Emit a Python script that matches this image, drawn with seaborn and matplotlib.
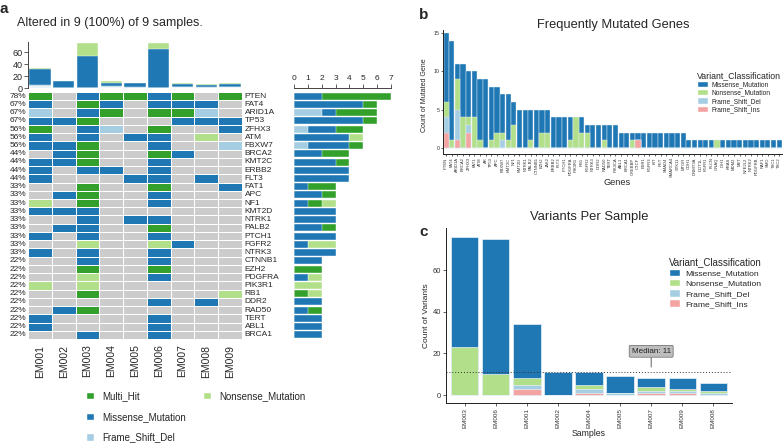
import numpy as np
import pandas as pd
import matplotlib
matplotlib.use("Agg")
import matplotlib.pyplot as plt
import seaborn as sns
from matplotlib.colors import ListedColormap
from matplotlib.patches import Patch

sns.set_theme(style="white")
plt.rcParams['font.family'] = ['Liberation Sans', 'DejaVu Sans']

# ============================================
# Colours (maftools style)
# ============================================
MIS = "#1F78B4"    # Missense_Mutation
NSN = "#B2DF8A"    # Nonsense_Mutation
FSD = "#A6CEE3"    # Frame_Shift_Del
FSI = "#F4A3A3"    # Frame_Shift_Ins
MULTI = "#33A02C"  # Multi_Hit
NONE = "#CCCCCC"

# ============================================
# Panel a data: oncoplot
# ============================================
samples = ["EM001", "EM002", "EM003", "EM004", "EM005", "EM006", "EM007", "EM008", "EM009"]

onco_genes = ["PTEN", "FAT4", "ARID1A", "TP53", "ZFHX3", "ATM", "FBXW7", "BRCA2", "KMT2C", "ERBB2",
              "FLT3", "FAT1", "APC", "NF1", "KMT2D", "NTRK1", "PALB2", "PTCH1", "FGFR2", "NTRK3",
              "CTNNB1", "EZH2", "PDGFRA", "PIK3R1", "RB1", "DDR2", "RAD50", "TERT", "ABL1", "BRCA1"]

# one string per gene, one letter per sample
# . none, M Multi_Hit, S Missense, N Nonsense, F Frame_Shift_Del
onco_rows = ["M.SMMSM.M", "S.MS.SSS.", "F.SM.MMF.", "SSM...SSS", "M.SF.M..S",
             "S.S.SS.N.", "SSM..S..F", ".SM..MS..", "SSM..S...", "S.SS.S...",
             "S...SS.S.", "..M..M..S", ".SM..S...", "N.M..S...", "SSS......",
             "..S.SS...", ".SS..M...", "S.S..S...", "..N..NS..", "S.S..S...",
             "..S..S...", "..M..M...", "..N..S...", "N.N......", "..M.....N",
             ".....S.S.", ".SM......", "S....S...", "S....S...", "..S..S..."]

# variants per sample (EM001..EM009)
s_mis = [26, 11, 53, 6, 8, 65, 4, 4, 5]
s_nsn = [3, 0, 23, 2, 0, 10, 2, 1, 1]
s_fsd = [2, 0, 0, 2, 1, 0, 1, 1, 1]
s_fsi = [3, 0, 0, 1, 0, 0, 1, 0, 1]

# ============================================
# Panel b data: frequently mutated genes
# ============================================
g_genes = ["PTEN", "FAT4", "ARID1A", "BRCA2", "ZFHX3", "FAT1", "ATM", "AR", "TP53", "APC",
           "FBXW7", "KMT2C", "NF1", "KMT2D", "NTRK1", "PALB2", "CTNNB1", "EZH2", "JAK2", "ERBB2",
           "FLT3", "PTCH1", "PDGFRA", "PIK3R1", "RB1", "FGFR2", "NTRK3", "DDR2", "RAD50", "TERT",
           "PIK3CA", "ABL1", "BRCA1", "CREBBP", "CTCF", "ESR1", "FGFR3", "KIT", "RET", "SMAD4",
           "SMARCA4", "STK11", "MTOR", "CDH1", "DNMT3A", "DOT1L", "FGFR1", "FLCN", "GNAQ", "IDH1",
           "KRAS", "MDM2", "MET", "NFE2L2", "NTRK2", "PDGFRB", "RAF1", "SMO", "TSC1", "TSC2"]
g_mis = [9, 13, 2, 7, 6, 6, 8, 9, 7, 6,
         5, 6, 3, 5, 5, 4, 5, 3, 3, 4,
         4, 4, 3, 0, 2, 1, 3, 3, 2, 3,
         3, 2, 2, 1, 1, 2, 2, 2, 2, 2,
         2, 2, 2, 1, 1, 1, 1, 1, 0, 1,
         1, 1, 1, 1, 1, 1, 1, 1, 1, 1]
g_nsn = [2, 1, 4, 4, 1, 4, 1, 0, 1, 2,
         1, 1, 3, 0, 0, 1, 0, 2, 2, 0,
         0, 0, 1, 4, 2, 2, 0, 0, 1, 0,
         0, 0, 0, 1, 0, 0, 0, 0, 0, 0,
         0, 0, 0, 0, 0, 0, 0, 0, 1, 0,
         0, 0, 0, 0, 0, 0, 0, 0, 0, 0]
g_fsd = [2, 0, 4, 0, 1, 0, 0, 0, 0, 0, 1] + [0] * 49
g_fsi = [2, 0, 1, 0, 2] + [0] * 29 + [1] + [0] * 25

W, H = 784, 444
fig = plt.figure(figsize=(W / 100, H / 100), dpi=100)


def px_axes(l, t, r, b):
    # axes from pixel box (top-left origin)
    return fig.add_axes([l / W, 1 - b / H, (r - l) / W, (b - t) / H])


def stacked(ax, cats, parts, colors, orient="v", width=0.9, edge="white", lw=0.4):
    # parts go bottom -> top; draw running totals from the top layer down
    cum = np.cumsum(np.array(parts, dtype=float), axis=0)
    for level in range(len(parts) - 1, -1, -1):
        if orient == "v":
            sns.barplot(x=cats, y=cum[level], order=cats, color=colors[level], saturation=1,
                        width=width, errorbar=None, edgecolor=edge, linewidth=lw, ax=ax)
        else:
            sns.barplot(x=cum[level], y=cats, order=cats, orient="h", color=colors[level],
                        saturation=1, width=width, errorbar=None, edgecolor=edge, linewidth=lw, ax=ax)


def ftext(x, y, s, **kw):
    fig.text(x / W, 1 - y / H, s, **kw)


# ============================================
# Panel a
# ============================================
code_map = {".": 0, "M": 1, "S": 2, "N": 3, "F": 4}
grid = pd.DataFrame([[code_map[c] for c in row] for row in onco_rows],
                    index=onco_genes, columns=samples)
pct = (grid > 0).sum(axis=1) / len(samples) * 100
n_alt = int((grid > 0).any(axis=0).sum())

ftext(4, 9, "a", fontsize=11, fontweight="bold", ha="center", va="center")
ftext(17, 23, f"Altered in {n_alt} ({n_alt / len(samples):.0%}) of {len(samples)} samples.",
      fontsize=9, ha="left", va="center")

ax_h = px_axes(28, 92, 242, 339)
sns.heatmap(grid, ax=ax_h, cmap=ListedColormap([NONE, MULTI, MIS, NSN, FSD]), vmin=-0.5, vmax=4.5,
            cbar=False, linewidths=0.6, linecolor="white")
ax_h.set_xlabel("")
ax_h.set_ylabel("")
ax_h.set_yticks(np.arange(len(onco_genes)) + 0.5)
ax_h.set_yticklabels([f"{p:.0f}%" for p in pct], fontsize=6, rotation=0)
ax_h.set_xticks(np.arange(len(samples)) + 0.5)
ax_h.set_xticklabels(samples, rotation=90, fontsize=7.5)
ax_h.tick_params(axis="y", length=0, pad=1)
ax_h.tick_params(axis="x", length=0, pad=4)
for i, g in enumerate(onco_genes):
    ax_h.text(9.12, i + 0.5, g, va="center", ha="left", fontsize=6, clip_on=False)

# top bar: variants per sample
ax_t = px_axes(28, 42, 242, 88)
stacked(ax_t, samples, [s_fsi, s_fsd, s_mis, s_nsn], ["#E6F0F8", FSD, MIS, NSN], width=0.9, lw=0.3)
ax_t.set_xlim(-0.5, 8.5)
ax_t.set_ylim(0, 77)
ax_t.set_yticks([0, 20, 40, 60])
ax_t.set_yticklabels(["0", "20", "40", "60"], fontsize=6.5)
ax_t.set_xticks([])
ax_t.set_xlabel("")
ax_t.set_ylabel("")
for sp in ["top", "right", "bottom"]:
    ax_t.spines[sp].set_visible(False)
ax_t.spines["left"].set_color("#444444")
ax_t.spines["left"].set_linewidth(0.7)
ax_t.tick_params(axis="y", left=True, length=3, width=0.6, color="#444444", pad=1)

# side bar: samples per gene by class
side_f = (grid == 4).sum(axis=1).values
side_s = (grid == 2).sum(axis=1).values
side_m = (grid == 1).sum(axis=1).values
side_n = (grid == 3).sum(axis=1).values
ax_s = px_axes(294, 88, 391, 339)
stacked(ax_s, onco_genes, [side_f, side_s, side_m, side_n], [FSD, MIS, MULTI, NSN], orient="h",
        width=0.85, lw=0.3)
ax_s.set_ylim(29.5, -0.99)
ax_s.set_xlim(0, 7)
ax_s.xaxis.tick_top()
ax_s.set_xticks(range(8))
ax_s.set_xticklabels([str(i) for i in range(8)], fontsize=6)
ax_s.set_yticks([])
ax_s.set_xlabel("")
ax_s.set_ylabel("")
for sp in ["left", "right", "bottom"]:
    ax_s.spines[sp].set_visible(False)
ax_s.spines["top"].set_color("#444444")
ax_s.spines["top"].set_linewidth(0.7)
ax_s.tick_params(axis="x", top=True, length=3, width=0.6, color="#444444", pad=1)

# legend for panel a
fig.legend([Patch(fc=MULTI), Patch(fc=MIS), Patch(fc=FSD)],
           ["Multi_Hit", "Missense_Mutation", "Frame_Shift_Del"],
           loc="upper left", bbox_to_anchor=(86 / W, 1 - 391 / H), frameon=False, fontsize=7,
           handlelength=0.8, handleheight=0.8, handletextpad=0.9, labelspacing=1.1,
           borderpad=0, borderaxespad=0)
fig.legend([Patch(fc=NSN)], ["Nonsense_Mutation"],
           loc="upper left", bbox_to_anchor=(203 / W, 1 - 391 / H), frameon=False, fontsize=7,
           handlelength=0.8, handleheight=0.8, handletextpad=0.9,
           borderpad=0, borderaxespad=0)

# ============================================
# Panel b
# ============================================
cls_labels = ["Missense_Mutation", "Nonsense_Mutation", "Frame_Shift_Del", "Frame_Shift_Ins"]
cls_handles = [Patch(fc=MIS), Patch(fc=NSN), Patch(fc=FSD), Patch(fc=FSI)]

ftext(424, 15, "b", fontsize=11, fontweight="bold", ha="center", va="center")
ftext(613, 25, "Frequently Mutated Genes", fontsize=9.3, ha="center", va="center")

ax_b = px_axes(443, 30, 782, 154)
stacked(ax_b, g_genes, [g_fsi, g_fsd, g_nsn, g_mis], [FSI, FSD, NSN, MIS], width=0.92,
        edge="#E8F1F8", lw=0.3)
ax_b.set_xlim(-0.55, 59.5)
ax_b.set_ylim(-0.78, 15.4)
ax_b.set_yticks([0, 5, 10, 15])
ax_b.set_yticklabels(["0", "5", "10", "15"], fontsize=3.8, color="#333333")
ax_b.set_xticks(range(len(g_genes)))
ax_b.set_xticklabels(g_genes, rotation=90, fontsize=3, color="#333333")
ax_b.set_xlabel("")
ax_b.set_ylabel("")
for sp in ["top", "right"]:
    ax_b.spines[sp].set_visible(False)
for sp in ["left", "bottom"]:
    ax_b.spines[sp].set_color("#222222")
    ax_b.spines[sp].set_linewidth(0.7)
ax_b.tick_params(axis="both", left=True, bottom=True, length=1.5, width=0.5, pad=1,
                 color="#222222")
ftext(424, 95, "Count of Mutated Gene", fontsize=5, rotation=90, ha="center", va="center")
ftext(617, 182, "Genes", fontsize=6.6, ha="center", va="center")
ax_b.legend(cls_handles, cls_labels, title="Variant_Classification", loc="upper left",
            bbox_to_anchor=(697 / W, 1 - 71 / H), bbox_transform=fig.transFigure, frameon=False,
            fontsize=4.8, title_fontsize=6.3, handlelength=1.6, handleheight=1.1,
            labelspacing=0.12, handletextpad=0.5, borderpad=0, borderaxespad=0, alignment="left")

# ============================================
# Panel c
# ============================================
df_c = pd.DataFrame({"sample": samples, "fsi": s_fsi, "fsd": s_fsd, "nsn": s_nsn, "mis": s_mis})
df_c["total"] = df_c[["fsi", "fsd", "nsn", "mis"]].sum(axis=1)
df_c = df_c.sort_values("total", ascending=False, kind="stable")
median = df_c["total"].median()

ftext(589, 217, "Variants Per Sample", fontsize=9.4, ha="center", va="center")
ftext(424, 232, "c", fontsize=11, fontweight="bold", ha="center", va="center")

ax_c = px_axes(446, 228, 732, 403)
order = list(df_c["sample"])
stacked(ax_c, order, [df_c["fsi"].values, df_c["fsd"].values, df_c["nsn"].values, df_c["mis"].values],
        [FSI, FSD, NSN, MIS], width=0.88, edge="#E8F1F8", lw=0.5)
ax_c.set_xlim(-0.6, 8.6)
ax_c.set_ylim(-3.84, 80.2)
ax_c.set_yticks([0, 20, 40, 60])
ax_c.set_yticklabels(["0", "20", "40", "60"], fontsize=5.5, color="#333333")
ax_c.set_xticks(range(len(order)))
ax_c.set_xticklabels(order, rotation=90, fontsize=4.5, color="#333333")
ax_c.set_xlabel("")
ax_c.set_ylabel("")
for sp in ["top", "right"]:
    ax_c.spines[sp].set_visible(False)
for sp in ["left", "bottom"]:
    ax_c.spines[sp].set_color("#222222")
    ax_c.spines[sp].set_linewidth(0.7)
ax_c.tick_params(axis="both", left=True, bottom=True, length=2, width=0.5, pad=1.5,
                 color="#222222")
ax_c.axhline(median, ls=(0, (1, 2)), color="#333333", lw=0.7)
ax_c.annotate(f"Median: {median:.0f}", xy=(6, 13.4), xytext=(6, 21), fontsize=5.8,
              ha="center", va="center", color="#222222",
              bbox=dict(boxstyle="round,pad=0.3,rounding_size=0.15", fc="#BDBDBD", ec="#666666", lw=0.5),
              arrowprops=dict(arrowstyle="-", color="#444444", lw=0.6, shrinkA=0, shrinkB=0))
ftext(427, 316, "Count of Variants", fontsize=6, rotation=90, ha="center", va="center")
ftext(589, 433, "Samples", fontsize=6.3, ha="center", va="center")
ax_c.legend(cls_handles, cls_labels, title="Variant_Classification", loc="upper left",
            bbox_to_anchor=(669 / W, 1 - 257 / H), bbox_transform=fig.transFigure, frameon=False,
            fontsize=6.1, title_fontsize=7, handlelength=1.3, handleheight=0.95,
            labelspacing=0.2, handletextpad=0.6, borderpad=0, borderaxespad=0, alignment="left")

fig.savefig("out.png", dpi=100)
